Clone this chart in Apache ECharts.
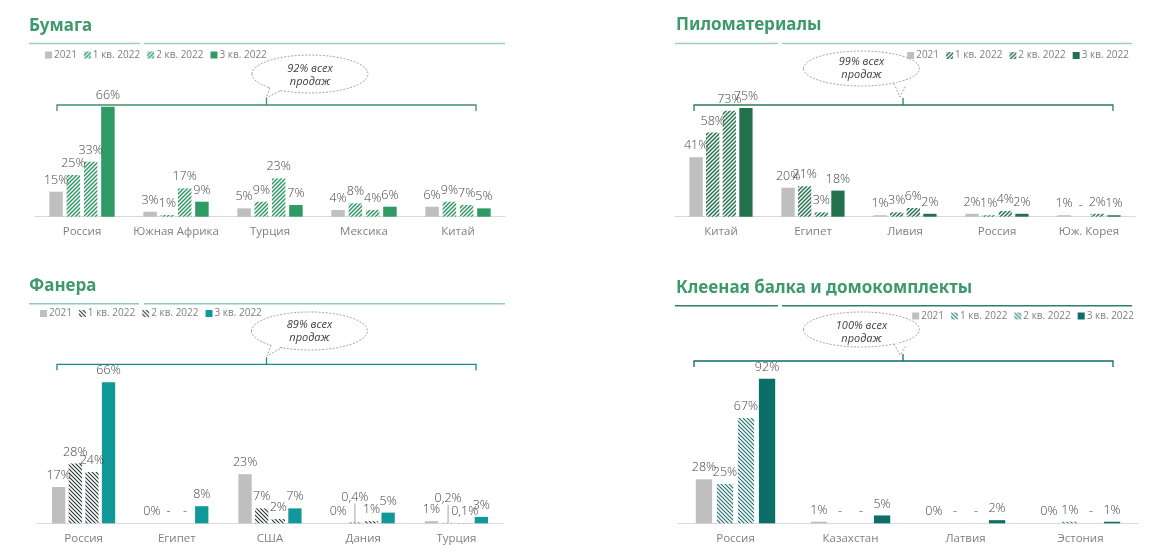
<!DOCTYPE html>
<html><head><meta charset="utf-8">
<script src="https://cdn.jsdelivr.net/npm/echarts@6/dist/echarts.min.js"></script>
<style>
html,body{margin:0;padding:0;background:#fff;width:1163px;height:552px;overflow:hidden}
.p{position:absolute}
</style>
</head><body>
<div id="p1" class="p" style="left:0;top:0;width:581px;height:276px"></div>
<div id="p2" class="p" style="left:581px;top:0;width:582px;height:276px"></div>
<div id="p3" class="p" style="left:0;top:276px;width:581px;height:276px"></div>
<div id="p4" class="p" style="left:581px;top:276px;width:582px;height:276px"></div>
<script>
// ---------- DATA ----------
const seriesNames = ['2021', '1 кв. 2022', '2 кв. 2022', '3 кв. 2022'];

const paperTitle = 'Бумага';
const paperCategories = ['Россия', 'Южная Африка', 'Турция', 'Мексика', 'Китай'];
const paper2021 = [15, 3, 5, 4, 6];
const paperQ1 = [25, 1, 9, 8, 9];
const paperQ2 = [33, 17, 23, 4, 7];
const paperQ3 = [66, 9, 7, 6, 5];
const paperNote = ['92% всех', 'продаж'];

const lumberTitle = 'Пиломатериалы';
const lumberCategories = ['Китай', 'Египет', 'Ливия', 'Россия', 'Юж. Корея'];
const lumber2021 = [41, 20, 1, 2, 1];
const lumberQ1 = [58, 21, 3, 1, null];
const lumberQ2 = [73, 3, 6, 4, 2];
const lumberQ3 = [75, 18, 2, 2, 1];
const lumberNote = ['99% всех', 'продаж'];

const plywoodTitle = 'Фанера';
const plywoodCategories = ['Россия', 'Египет', 'США', 'Дания', 'Турция'];
const plywood2021 = [17, 0, 23, 0, 1];
const plywoodQ1 = [28, null, 7, 0.4, 0.2];
const plywoodQ2 = [24, null, 2, 1, 0.1];
const plywoodQ3 = [66, 8, 7, 5, 3];
const plywoodNote = ['89% всех', 'продаж'];

const glulamTitle = 'Клееная балка и домокомплекты';
const glulamCategories = ['Россия', 'Казахстан', 'Латвия', 'Эстония'];
const glulam2021 = [28, 1, 0, 0];
const glulamQ1 = [25, null, null, 1];
const glulamQ2 = [67, null, null, null];
const glulamQ3 = [92, 5, 2, 1];
const glulamNote = ['100% всех', 'продаж'];

// ---------- HELPERS ----------
function hatch(color, dir, s, lw) {
  const c = document.createElement('canvas');
  c.width = s; c.height = s;
  const g = c.getContext('2d');
  g.fillStyle = '#ffffff'; g.fillRect(0, 0, s, s);
  g.strokeStyle = color; g.lineWidth = lw; g.beginPath();
  if (dir === '/') {
    g.moveTo(0, s); g.lineTo(s, 0);
    g.moveTo(-1, 1); g.lineTo(1, -1);
    g.moveTo(s - 1, s + 1); g.lineTo(s + 1, s - 1);
  } else {
    g.moveTo(0, 0); g.lineTo(s, s);
    g.moveTo(-1, s - 1); g.lineTo(1, s + 1);
    g.moveTo(s - 1, -1); g.lineTo(s + 1, 1);
  }
  g.stroke();
  return { image: c, repeat: 'repeat' };
}
function fmt(v) { return String(v).replace('.', ',') + '%'; }

const FONT = 'Open Sans';

function build(cfg) {
  const chart = echarts.init(document.getElementById(cfg.el), null, { renderer: 'canvas' });
  const ox = cfg.ox, oy = cfg.oy;
  const lifted = cfg.lifted || {};
  const series = cfg.values.map((arr, si) => ({
    name: seriesNames[si],
    type: 'bar',
    barWidth: cfg.barWidth,
    barGap: cfg.barGap,
    itemStyle: { color: cfg.colors[si] },
    label: {
      show: true, position: 'top', distance: 5,
      color: '#454545', fontSize: 12.5, fontWeight: 300, fontFamily: FONT,
      formatter: p => fmt(p.value)
    },
    labelLayout: function (p) {
      const k = si + '_' + p.dataIndex;
      if (lifted[k] !== undefined) return { dy: lifted[k] };
      return {};
    },
    data: arr.map((v, i) => {
      const it = { value: v == null ? 0 : v };
      if (v == null) it.label = { formatter: '-' };
      if (lifted[si + '_' + i] !== undefined) {
        it.labelLine = { show: true, length2: 0, lineStyle: { color: '#8c8c8c', width: 0.8 } };
      }
      return it;
    })
  }));

  const b = cfg.bubble, br = cfg.bracket;
  const graphic = [];
  cfg.rules.forEach(r => graphic.push({
    type: 'line', silent: true,
    shape: { x1: r[0] - ox, y1: cfg.ruleY - oy, x2: r[1] - ox, y2: cfg.ruleY - oy },
    style: { stroke: cfg.ruleColor, lineWidth: 1.6 }
  }));
  graphic.push({
    type: 'polyline', silent: true,
    shape: { points: [[br.x1 - ox, br.y + 6 - oy], [br.x1 - ox, br.y - oy], [br.x2 - ox, br.y - oy], [br.x2 - ox, br.y + 6 - oy]] },
    style: { stroke: cfg.bracketColor, lineWidth: 1.3, fill: null }
  });
  graphic.push({
    type: 'line', silent: true,
    shape: { x1: br.cx - ox, y1: br.y - 7 - oy, x2: br.cx - ox, y2: br.y - oy },
    style: { stroke: cfg.bracketColor, lineWidth: 1.3 }
  });
  graphic.push({
    type: 'ellipse', silent: true,
    shape: { cx: b.cx - ox, cy: b.cy - oy, rx: b.rx, ry: b.ry },
    style: { fill: '#ffffff', stroke: '#8f8f8f', lineWidth: 0.8, lineDash: [2, 1.5] }
  });
  const t = cfg.tail.map(p => [p[0] - ox, p[1] - oy]);
  graphic.push({
    type: 'polygon', silent: true,
    shape: { points: [[t[0][0] + 0.8, t[0][1] - 1.2], t[1], [t[2][0] - 0.8, t[2][1] - 1.2]] },
    style: { fill: '#ffffff', stroke: null }
  });
  graphic.push({
    type: 'polyline', silent: true,
    shape: { points: t },
    style: { stroke: '#8f8f8f', lineWidth: 0.8, lineDash: [2, 1.5], fill: null }
  });
  b.lines.forEach((line, i) => graphic.push({
    type: 'text', silent: true,
    style: {
      text: line, x: b.cx - ox, y: b.ty[i] - oy, align: 'center', verticalAlign: 'middle',
      fontFamily: FONT, fontStyle: 'italic', fontSize: 11, fill: '#404040'
    }
  }));

  const legend = {
    data: seriesNames, icon: 'rect', itemWidth: 7, itemHeight: 7, itemGap: 7,
    top: cfg.legendY - 7 - oy, padding: 0, selectedMode: false,
    textStyle: { fontSize: 10, color: '#808080', fontFamily: FONT, padding: [0, 0, 0, -3] }
  };
  if (cfg.legendLeft !== undefined) legend.left = cfg.legendLeft - ox;
  else legend.right = (ox + cfg.width) - cfg.legendRight;

  chart.setOption({
    animation: false,
    title: {
      text: cfg.title, left: cfg.titleX - ox, top: cfg.titleY - 10 - oy, padding: 0,
      textStyle: { fontFamily: 'Noto Sans', fontWeight: 'bold', fontSize: 17, lineHeight: 20, color: '#3e9a6c' }
    },
    legend: legend,
    grid: { left: cfg.grid.left - ox, width: cfg.grid.width, top: cfg.grid.top - oy, height: cfg.grid.height, containLabel: false },
    xAxis: {
      type: 'category', data: cfg.categories,
      axisLine: { lineStyle: { color: '#d9d9d9', width: 1 } },
      axisTick: { show: false },
      axisLabel: { interval: 0, color: '#7f7f7f', fontSize: 11.5, fontFamily: FONT, margin: 9 }
    },
    yAxis: { type: 'value', min: 0, max: 100, show: false, splitLine: { show: false } },
    series: series,
    graphic: graphic
  });
}

// ---------- PANELS ----------
const gray = '#bfbfbf';

build({
  el: 'p1', ox: 0, oy: 0, width: 581,
  title: paperTitle, titleX: 29, titleY: 26,
  rules: [[29, 140], [144, 505]], ruleY: 43.5, ruleColor: '#9fd1b9',
  legendLeft: 45, legendY: 57,
  grid: { left: 35, width: 470, top: 50, height: 166.7 },
  categories: paperCategories,
  values: [paper2021, paperQ1, paperQ2, paperQ3],
  colors: [gray, hatch('#2f9a64', '/', 4, 1.5), hatch('#2f9a64', '/', 4, 1.5), '#2f9a64'],
  barWidth: 13.5, barGap: '28%',
  bubble: { cx: 310, cy: 74, rx: 58, ry: 19, lines: paperNote, ty: [69, 82] },
  tail: [[270, 87.5], [266, 98], [281, 90.5]],
  bracket: { x1: 57, x2: 476, y: 105, cx: 266.5 },
  bracketColor: '#3f8f65'
});

build({
  el: 'p2', ox: 581, oy: 0, width: 582,
  title: lumberTitle, titleX: 676, titleY: 25,
  rules: [[675, 778], [782, 1132]], ruleY: 43.5, ruleColor: '#9fd1b9',
  legendRight: 1129, legendY: 57.5,
  grid: { left: 675, width: 460, top: 71.7, height: 145 },
  categories: lumberCategories,
  values: [lumber2021, lumberQ1, lumberQ2, lumberQ3],
  colors: [gray, hatch('#25744e', '/', 4, 1.5), hatch('#25744e', '/', 4, 1.5), '#23714c'],
  barWidth: 13.3, barGap: '25%',
  bubble: { cx: 861.5, cy: 68.5, rx: 58, ry: 17.5, lines: lumberNote, ty: [62, 75] },
  tail: [[894, 83.5], [900, 97], [906, 85]],
  bracket: { x1: 694, x2: 1113, y: 105, cx: 903 },
  bracketColor: '#2f7a55'
});

build({
  el: 'p3', ox: 0, oy: 276, width: 581,
  title: plywoodTitle, titleX: 29, titleY: 285.7,
  rules: [[29, 139], [144, 505]], ruleY: 303.7, ruleColor: '#8fc9bb',
  legendLeft: 40, legendY: 315.5,
  grid: { left: 37, width: 466, top: 309.7, height: 213.6 },
  categories: plywoodCategories,
  values: [plywood2021, plywoodQ1, plywoodQ2, plywoodQ3],
  colors: [gray, hatch('#263636', '\\', 4, 1.1), hatch('#263636', '\\', 4, 1.1), '#11999a'],
  barWidth: 13.3, barGap: '25%',
  bubble: { cx: 309.5, cy: 331, rx: 58, ry: 19, lines: plywoodNote, ty: [324.5, 338] },
  tail: [[271, 345], [267, 356], [282, 347.5]],
  bracket: { x1: 57, x2: 476, y: 364.3, cx: 266.5 },
  bracketColor: '#178c8a',
  lifted: { '1_3': -14, '1_4': -13 }
});

build({
  el: 'p4', ox: 581, oy: 276, width: 582,
  title: glulamTitle, titleX: 676, titleY: 288.3,
  rules: [[675, 778], [782, 1132]], ruleY: 305.7, ruleColor: '#2f7c72',
  legendRight: 1134, legendY: 318,
  grid: { left: 678, width: 460, top: 366.3, height: 157 },
  categories: glulamCategories,
  values: [glulam2021, glulamQ1, glulamQ2, glulamQ3],
  colors: [gray, hatch('#17706b', '\\', 4, 1.1), hatch('#17706b', '\\', 4, 1.1), '#0b6e69'],
  barWidth: 16.3, barGap: '29%',
  bubble: { cx: 861.5, cy: 329.5, rx: 58, ry: 17.5, lines: glulamNote, ty: [325.7, 338.5] },
  tail: [[894, 344], [900, 355], [906, 346]],
  bracket: { x1: 694, x2: 1113, y: 361, cx: 903 },
  bracketColor: '#106b66'
});
</script>
</body></html>
